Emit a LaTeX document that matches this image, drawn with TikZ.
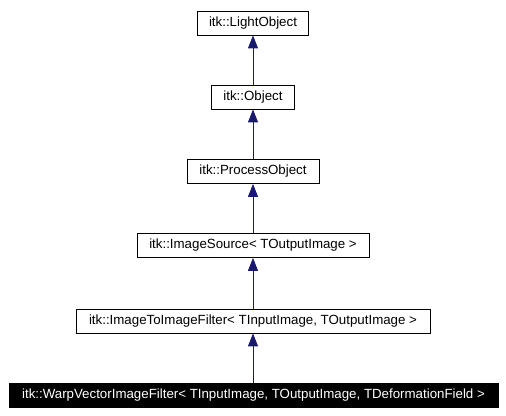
\documentclass[tikz,border=0pt]{standalone}
\usepackage{fontspec}
\setmainfont{Liberation Sans}
\usetikzlibrary{arrows.meta}
\definecolor{edgeblue}{HTML}{191970}
\begin{document}
\begin{tikzpicture}[x=1pt,y=1pt,
  cls/.style={draw=black,line width=0.8pt,fill=white,minimum height=24pt,inner xsep=0pt,inner ysep=0pt,font=\fontsize{13.3}{16}\selectfont},
  cur/.style={cls,fill=black,text=white},
  inh/.style={draw=edgeblue,line width=0.9pt,-{Triangle[width=10pt,length=13pt]},fill=edgeblue}]
\useasboundingbox (0,0) rectangle (506,-415);
\node[cls,minimum width=111pt] (lo) at (253,-23) {itk::LightObject};
\node[cls,minimum width=83pt] (ob) at (253,-97) {itk::Object};
\node[cls,minimum width=132pt] (po) at (253,-171.5) {itk::ProcessObject};
\node[cls,minimum width=232pt] (is) at (253,-245.5) {itk::ImageSource< TOutputImage >};
\node[cls,minimum width=354pt] (iti) at (253,-321) {itk::ImageToImageFilter< TInputImage, TOutputImage >};
\node[cur,minimum width=489pt] (wv) at (253.5,-395.5) {itk::WarpVectorImageFilter< TInputImage, TOutputImage, TDeformationField >};
\draw[inh] (ob.north) -- (lo.south);
\draw[inh] (po.north) -- (ob.south);
\draw[inh] (is.north) -- (po.south);
\draw[inh] (iti.north) -- (is.south);
\draw[inh] (wv.north -| iti.south) -- (iti.south);
\end{tikzpicture}
\end{document}
